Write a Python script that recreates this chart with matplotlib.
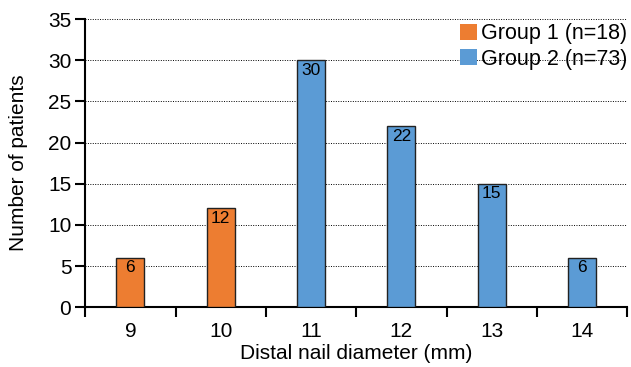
import matplotlib.pyplot as plt
import numpy as np

plt.rcParams['font.family'] = ['Liberation Sans', 'DejaVu Sans']

diameters = ["9", "10", "11", "12", "13", "14"]
patients = [6, 12, 30, 22, 15, 6]
groups = [1, 1, 2, 2, 2, 2]
group_labels = ["Group 1 (n=18)", "Group 2 (n=73)"]
group_colors = {1: "#ED7D31", 2: "#5B9BD5"}

fig = plt.figure(figsize=(6.31, 3.67), dpi=100)
ax = fig.add_axes([0.135, 0.163, 0.859, 0.785])

x = np.arange(len(diameters))
colors = [group_colors[g] for g in groups]
ax.bar(x, patients, width=0.31, color=colors, edgecolor="#222222",
       linewidth=1.0, zorder=3)

for xi, v in zip(x, patients):
    ax.text(xi, v - 0.3, str(v), ha="center", va="top", fontsize=12.5, zorder=4)

# legend handles
for g, lab in zip([1, 2], group_labels):
    ax.bar([0], [0], color=group_colors[g], label=lab, width=0)
ax.legend(loc="upper right", bbox_to_anchor=(1.025, 1.03), frameon=False,
          fontsize=15.5, handlelength=0.8, handleheight=0.8, handletextpad=0.2,
          labelspacing=0.2, borderaxespad=0.2)

ax.set_xlim(-0.5, len(diameters) - 0.5)
ax.set_ylim(0, 35)
ax.set_yticks(range(0, 36, 5))
ax.tick_params(axis="y", labelsize=15, direction="out", length=7, width=1.5, pad=3)
ax.set_xticks(x)
ax.set_xticklabels(diameters, fontsize=15)
ax.set_xticks(np.arange(-0.5, len(diameters)), minor=True)
ax.tick_params(axis="x", which="major", length=0, pad=11)
ax.tick_params(axis="x", which="minor", direction="out", length=7, width=1.5)

ax.yaxis.grid(True, linestyle=(0, (1, 1.5)), color="black", linewidth=0.7, zorder=0)
ax.set_axisbelow(True)
for s in ["top", "right"]:
    ax.spines[s].set_visible(False)
for s in ["left", "bottom"]:
    ax.spines[s].set_linewidth(1.5)

ax.set_xlabel("Distal nail diameter (mm)", fontsize=15, labelpad=2)
ax.set_ylabel("Number of patients", fontsize=15, labelpad=14)

fig.savefig("out.png", dpi=100)
